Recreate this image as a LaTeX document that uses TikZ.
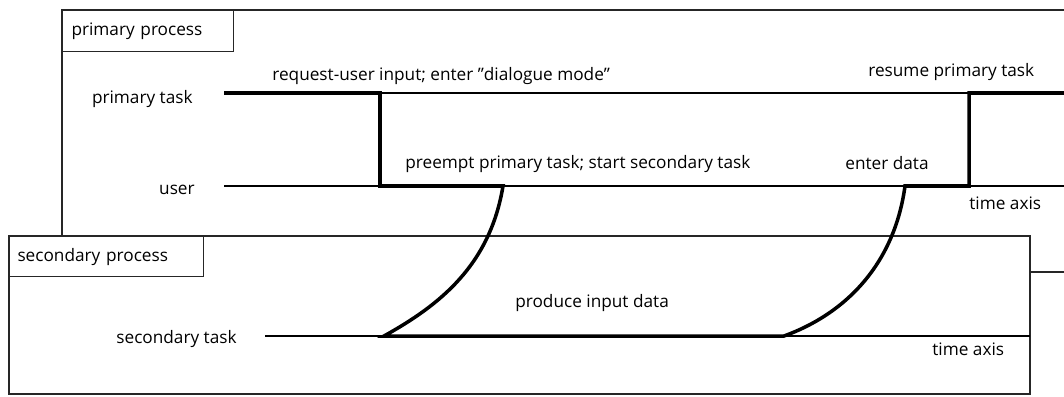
\documentclass[tikz,border=0pt]{standalone}
\usepackage{fontspec}
\setmainfont{Open Sans}
\usetikzlibrary{calc}

\begin{document}
\begin{tikzpicture}[x=0.02cm,y=-0.02cm,
  txt/.style={font=\fontsize{9.8}{12}\selectfont,inner sep=0pt},
  boxline/.style={line width=0.6pt,draw=black!85},
  axisline/.style={line width=0.6pt},
  trace/.style={line width=2pt,line join=miter},
  proclabel/.style={boxline,draw,fill=white,anchor=north west,align=left,
    font=\fontsize{9.8}{12}\selectfont,inner ysep=0pt}]
\useasboundingbox (0,0) rectangle (1064,396);

\draw[boxline] (1064,10) -| (62,272) -- (1064,272);
\node[proclabel,inner xsep=0.18cm,text width=3.06cm,minimum height=0.82cm] (pplabel) at (62,10) {primary process};

\coordinate (ptL) at (224,93);
\coordinate (ptR) at (1064,93);
\coordinate (usL) at (224,186);
\coordinate (usR) at (1064,186);
\draw[axisline] (ptL) -- (ptR);
\draw[axisline] (usL) -- (usR);

\node[txt,anchor=base east] (ptask) at (193,103) {primary task};
\node[txt,anchor=base east] (user) at (195,194) {user};
\node[txt,anchor=base west] (request) at (272,80) {request-user input; enter "dialogue mode"};
\node[txt,anchor=base west] (resume) at (868,76) {resume primary task};
\node[txt,anchor=base west] (preempt) at (405,168) {preempt primary task; start secondary task};
\node[txt,anchor=base west] (enter) at (845,169) {enter data};
\node[txt,anchor=base west] (ptime) at (969,209) {time axis};

\draw[boxline,fill=white] (9,236) rectangle (1030,394);
\node[proclabel,inner xsep=0.16cm,text width=3.56cm,minimum height=0.8cm] (splabel) at (9,236) {secondary process};

\coordinate (stL) at (265,336);
\coordinate (stR) at (1030,336);
\draw[axisline] (stL) -- (stR);

\node[txt,anchor=base east] (stask) at (237,343) {secondary task};
\node[txt,anchor=base west] (produce) at (515,307) {produce input data};
\node[txt,anchor=base west] (stime) at (932,355) {time axis};

\coordinate (pre) at (380,186);
\coordinate (start) at (503,186);
\coordinate (sec) at (384,336);
\coordinate (done) at (784,336);
\coordinate (ent) at (905,186);
\coordinate (res) at (969,93);

\draw[trace] (ptL) -| (pre) -- (start)
  .. controls (490,265) and (440,305) .. (sec) -- (done)
  .. controls (850,312) and (895,260) .. (ent) -| (res) -- (ptR);

\end{tikzpicture}
\end{document}
